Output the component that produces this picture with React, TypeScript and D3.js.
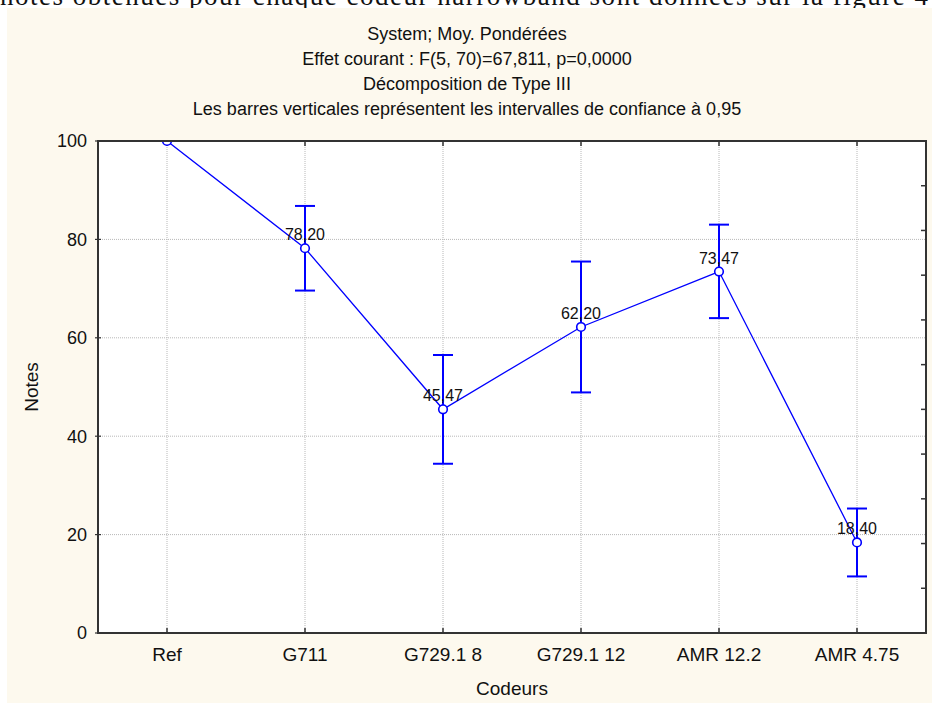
import { useEffect, useRef } from 'react';
import * as d3 from 'd3';

const categories = ['Ref', 'G711', 'G729.1 8', 'G729.1 12', 'AMR 12.2', 'AMR 4.75'];
const means = [100, 78.2, 45.47, 62.2, 73.47, 18.4];
const ciLow = [100, 69.6, 34.4, 48.9, 64.0, 11.5];
const ciHigh = [100, 86.8, 56.5, 75.5, 83.0, 25.3];
const yTicks = [0, 20, 40, 60, 80, 100];
const titleLines = [
  'System; Moy. Pondérées',
  'Effet courant : F(5, 70)=67,811, p=0,0000',
  'Décomposition de Type III',
  'Les barres verticales représentent les intervalles de confiance à 0,95',
];
const pageText = 'notes obtenues pour chaque codeur narrowband sont données sur la figure 4';

const W = 932;
const H = 703;
const FONT = '"Liberation Sans", Arial, sans-serif';

export default function App() {
  const svgRef = useRef<SVGSVGElement>(null);

  useEffect(() => {
    if (!svgRef.current) return;
    const margin = { top: 141, right: 6, bottom: 70, left: 98 };
    const plotW = W - margin.left - margin.right;
    const plotH = H - margin.top - margin.bottom;

    const root = d3.select(svgRef.current);
    root.selectAll('*').remove();

    // page background + the cropped line of document text above the figure
    root.append('rect').attr('width', W).attr('height', H).attr('fill', '#ffffff');
    root.append('text')
      .attr('x', 0)
      .attr('y', 5)
      .attr('textLength', 928)
      .attr('lengthAdjust', 'spacing')
      .style('font-family', '"Liberation Serif", "Times New Roman", serif')
      .style('font-size', '27px')
      .attr('fill', '#111')
      .text(pageText);
    root.append('rect')
      .attr('x', 7).attr('y', 8)
      .attr('width', W - 7).attr('height', H - 8)
      .attr('fill', '#fdf9ee');

    // titles
    root.append('g')
      .selectAll('text')
      .data(titleLines)
      .enter()
      .append('text')
      .attr('x', 467)
      .attr('y', (d, i) => 40 + i * 25)
      .attr('text-anchor', 'middle')
      .style('font-family', FONT)
      .style('font-size', '18px')
      .attr('fill', '#111')
      .text(d => d);

    const svg = root.append('g')
      .attr('transform', `translate(${margin.left},${margin.top})`);

    const xScale = d3.scalePoint<string>()
      .domain(categories)
      .range([0, plotW])
      .padding(0.5);

    const yScale = d3.scaleLinear().domain([0, 100]).range([plotH, 0]);
    // right-hand frame carries its own unlabeled ticks (11 divisions)
    const yRight = d3.scaleLinear().domain([0, 11]).range([plotH, 0]);

    svg.append('rect')
      .attr('width', plotW)
      .attr('height', plotH)
      .attr('fill', '#ffffff');

    // grid
    svg.append('g')
      .selectAll('line')
      .data(yTicks.filter(t => t > 0 && t < 100))
      .enter()
      .append('line')
      .attr('x1', 0).attr('x2', plotW)
      .attr('y1', d => yScale(d)).attr('y2', d => yScale(d))
      .attr('stroke', '#b8b8b8')
      .attr('stroke-dasharray', '1 1');

    svg.append('g')
      .selectAll('line')
      .data(categories)
      .enter()
      .append('line')
      .attr('x1', d => xScale(d)!).attr('x2', d => xScale(d)!)
      .attr('y1', 0).attr('y2', plotH)
      .attr('stroke', '#b8b8b8')
      .attr('stroke-dasharray', '1 1');

    // frame ticks
    const tickColor = '#333';
    svg.append('g')
      .selectAll('line')
      .data(categories)
      .enter()
      .append('line')
      .attr('x1', d => xScale(d)!).attr('x2', d => xScale(d)!)
      .attr('y1', plotH).attr('y2', plotH - 5)
      .attr('stroke', tickColor).attr('stroke-width', 1.5);
    svg.append('g')
      .selectAll('line')
      .data(categories)
      .enter()
      .append('line')
      .attr('x1', d => xScale(d)!).attr('x2', d => xScale(d)!)
      .attr('y1', 0).attr('y2', 5)
      .attr('stroke', tickColor).attr('stroke-width', 1.5);
    svg.append('g')
      .selectAll('line')
      .data(yTicks)
      .enter()
      .append('line')
      .attr('x1', -3).attr('x2', 3)
      .attr('y1', d => yScale(d)).attr('y2', d => yScale(d))
      .attr('stroke', tickColor).attr('stroke-width', 1.2);
    svg.append('g')
      .selectAll('line')
      .data(d3.range(1, 11))
      .enter()
      .append('line')
      .attr('x1', plotW).attr('x2', plotW - 5)
      .attr('y1', d => yRight(d)).attr('y2', d => yRight(d))
      .attr('stroke', tickColor).attr('stroke-width', 1.5);

    // y tick labels
    svg.append('g')
      .selectAll('text')
      .data(yTicks)
      .enter()
      .append('text')
      .attr('x', -11)
      .attr('y', d => yScale(d))
      .attr('dy', '0.36em')
      .attr('text-anchor', 'end')
      .style('font-family', FONT)
      .style('font-size', '18px')
      .attr('fill', '#111')
      .text(d => d);

    // category labels
    svg.append('g')
      .selectAll('text')
      .data(categories)
      .enter()
      .append('text')
      .attr('x', d => xScale(d)!)
      .attr('y', plotH + 28)
      .attr('text-anchor', 'middle')
      .style('font-family', FONT)
      .style('font-size', '19px')
      .attr('fill', '#111')
      .text(d => d);

    svg.append('text')
      .attr('x', plotW / 2)
      .attr('y', plotH + 62)
      .attr('text-anchor', 'middle')
      .style('font-family', FONT)
      .style('font-size', '19px')
      .attr('fill', '#111')
      .text('Codeurs');

    svg.append('text')
      .attr('transform', `translate(${-60},${plotH / 2}) rotate(-90)`)
      .attr('text-anchor', 'middle')
      .style('font-family', FONT)
      .style('font-size', '19px')
      .attr('fill', '#111')
      .text('Notes');

    // clipped plot content
    svg.append('clipPath')
      .attr('id', 'plot-clip')
      .append('rect')
      .attr('width', plotW)
      .attr('height', plotH);

    const content = svg.append('g').attr('clip-path', 'url(#plot-clip)');
    const blue = '#0000ff';
    const points = categories.map((c, i) => ({ c, m: means[i], lo: ciLow[i], hi: ciHigh[i] }));

    const line = d3.line<typeof points[0]>()
      .x(d => xScale(d.c)!)
      .y(d => yScale(d.m));

    content.append('path')
      .datum(points)
      .attr('fill', 'none')
      .attr('stroke', blue)
      .attr('stroke-width', 1.3)
      .attr('d', line);

    const bars = content.append('g')
      .selectAll('g')
      .data(points.filter(p => p.hi > p.lo))
      .enter()
      .append('g')
      .attr('stroke', blue)
      .attr('stroke-width', 2);
    bars.append('line')
      .attr('x1', d => xScale(d.c)!).attr('x2', d => xScale(d.c)!)
      .attr('y1', d => yScale(d.lo)).attr('y2', d => yScale(d.hi));
    bars.append('line')
      .attr('x1', d => xScale(d.c)! - 10).attr('x2', d => xScale(d.c)! + 10)
      .attr('y1', d => yScale(d.lo)).attr('y2', d => yScale(d.lo));
    bars.append('line')
      .attr('x1', d => xScale(d.c)! - 10).attr('x2', d => xScale(d.c)! + 10)
      .attr('y1', d => yScale(d.hi)).attr('y2', d => yScale(d.hi));

    content.append('g')
      .selectAll('circle')
      .data(points)
      .enter()
      .append('circle')
      .attr('cx', d => xScale(d.c)!)
      .attr('cy', d => yScale(d.m))
      .attr('r', 4.3)
      .attr('fill', '#ffffff')
      .attr('stroke', blue)
      .attr('stroke-width', 1.6);

    const fmt = d3.format('.2f');
    content.append('g')
      .selectAll('text')
      .data(points.filter(p => p.m < 100))
      .enter()
      .append('text')
      .attr('x', d => xScale(d.c)!)
      .attr('y', d => yScale(d.m) - 8)
      .attr('text-anchor', 'middle')
      .style('font-family', FONT)
      .style('font-size', '16px')
      .attr('fill', '#111')
      .text(d => fmt(d.m).replace('.', ','));

    // frame
    svg.append('rect')
      .attr('width', plotW)
      .attr('height', plotH)
      .attr('fill', 'none')
      .attr('stroke', '#333')
      .attr('stroke-width', 2);
  }, []);

  return (
    <svg
      ref={svgRef}
      width={W}
      height={H}
      style={{ position: 'absolute', left: 0, top: 0, display: 'block' }}
    />
  );
}
